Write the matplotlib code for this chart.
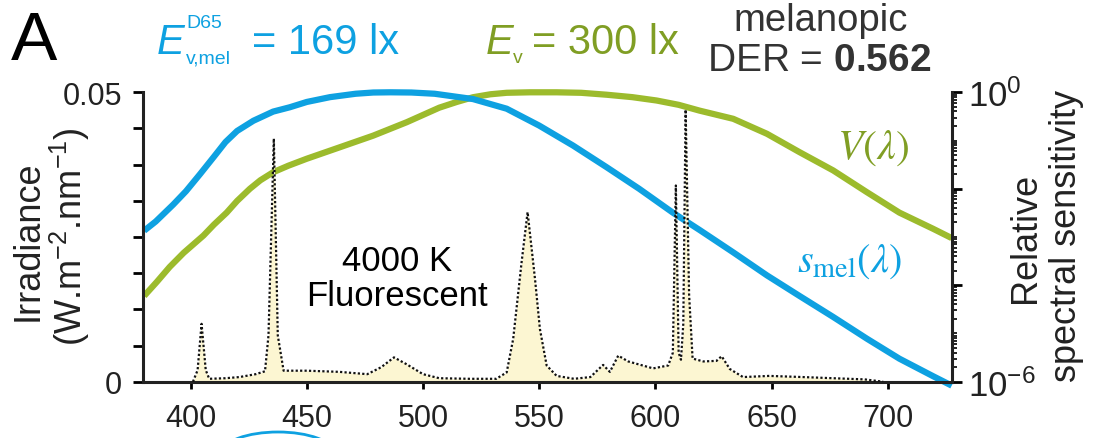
import numpy as np
import matplotlib
matplotlib.use("Agg")
import matplotlib.pyplot as plt
from matplotlib.ticker import LogLocator, NullFormatter
from matplotlib.patches import Arc

plt.rcParams['font.family'] = ['Liberation Sans', 'DejaVu Sans']
plt.rcParams['mathtext.fontset'] = 'custom'
plt.rcParams['mathtext.rm'] = 'Liberation Sans'
plt.rcParams['mathtext.it'] = 'Liberation Sans:italic'
plt.rcParams['mathtext.bf'] = 'Liberation Sans:bold'

# melanopic sensitivity s_mel(lambda)
smel_wl = [380, 385, 392.5, 398, 404, 410, 415, 420, 427, 435.5, 442.7, 450, 460,
           471, 478.6, 486, 495, 505, 521.5, 536, 550, 564.5, 579, 593, 607.5, 619,
           633.5, 648, 662, 676.5, 691, 705, 719.5, 727.5]
smel_val = [1.35e-3, 2.1e-3, 4.7e-3, 8.9e-3, 2.0e-2, 4.6e-2, 9.3e-2, 0.158, 0.257, 0.398,
            0.49, 0.631, 0.794, 0.933, 0.99, 1.0, 0.99, 0.933, 0.724, 0.457, 0.204,
            7.9e-2, 2.8e-2, 1.0e-2, 3.2e-3, 1.4e-3, 4.8e-4, 1.6e-4, 6.0e-5, 2.2e-5,
            7.8e-6, 3.0e-6, 1.3e-6, 8.3e-7]

# photopic luminosity V(lambda)
v_wl = [380, 385.5, 391, 397, 405.5, 410, 415.5, 420, 425.5, 430, 435.5, 442, 450, 464,
        478.5, 493, 507, 514.5, 521.5, 529, 536, 546, 557.5, 568, 579, 590, 600.5, 610,
        619, 633.5, 648, 662, 676.5, 691, 705, 719.5, 727.5]
v_val = [6.0e-5, 1.18e-4, 2.4e-4, 4.7e-4, 1.07e-3, 1.8e-3, 3.2e-3, 5.6e-3, 1.0e-2, 1.5e-2,
         2.2e-2, 3.0e-2, 4.2e-2, 7.2e-2, 0.126, 0.24, 0.48, 0.63, 0.79, 0.91, 0.977, 1.0,
         1.0, 0.977, 0.891, 0.794, 0.676, 0.55, 0.417, 0.282, 0.138, 0.0575, 0.024,
         8.5e-3, 3.2e-3, 1.48e-3, 9.5e-4]

# 4000 K fluorescent spectrum (W.m-2.nm-1)
spd_wl = [401, 403, 404.7, 406.5, 408, 415, 421, 428, 432, 433.5, 435.8, 437.5, 440, 450,
          464, 476, 482, 487.5, 493, 500, 507, 520, 531.5, 536, 538.8, 542.4, 545, 548.2,
          550.3, 553.2, 557.5, 565, 572, 577.5, 580.4, 584, 588.3, 599, 605.5, 607.5,
          608.8, 610, 611, 612, 613, 614.5, 616, 620.6, 626.3, 628.5, 632, 637.7, 649,
          663.5, 676.5, 690, 698]
spd_val = [0, 0.002, 0.0100, 0.002, 0.0005, 0.0006, 0.0008, 0.0013, 0.0018, 0.008, 0.042,
           0.008, 0.0019, 0.0019, 0.0017, 0.0013, 0.0025, 0.0042, 0.003, 0.0013, 0.0006,
           0.0005, 0.0005, 0.0016, 0.0074, 0.0206, 0.0293, 0.0177, 0.0091, 0.0028, 0.0010,
           0.0005, 0.0008, 0.0029, 0.0017, 0.0045, 0.0035, 0.0023, 0.0028, 0.005, 0.0339,
           0.005, 0.0038, 0.01, 0.047, 0.015, 0.004, 0.0035, 0.0036, 0.0044, 0.0022, 0.0008,
           0.0010, 0.0008, 0.0006, 0.0004, 0.0]

xticks = [400, 450, 500, 550, 600, 650, 700]
left_ticks = [0, 0.00625, 0.0125, 0.01875, 0.025, 0.03125, 0.0375, 0.04375, 0.05]
left_labels = ['0', '', '', '', '', '', '', '', '0.05']
right_ticks = [1e-6, 1e-4, 1e-2, 1]
right_labels = ['$10^{-6}$', '', '', '$10^{0}$']

BLUE = '#0ea1e1'
GREEN = '#9cbb2c'
GREEN_TXT = '#809e24'
INK = '#222222'
W, H = 1095, 439


def px(x, y):
    return x / W, 1 - y / H


fig = plt.figure(figsize=(W / 100, H / 100), dpi=100)
ax = fig.add_axes([143 / W, 1 - 382.7 / H, (951.7 - 143) / W, (382.7 - 93.3) / H])
ax2 = ax.twinx()

ax2.plot(v_wl, v_val, color=GREEN, lw=4.5, solid_capstyle='butt',
         solid_joinstyle='round', clip_on=False)
ax2.plot(smel_wl, smel_val, color=BLUE, lw=4.5, solid_capstyle='butt',
         solid_joinstyle='round', clip_on=False)
ax2.set_yscale('log')
ax2.set_ylim(1e-6, 1)
ax2.set_yticks(right_ticks, labels=right_labels)
ax2.yaxis.set_minor_locator(LogLocator(base=10, subs=[1, 2, 3, 4, 5, 6, 7, 8, 9], numticks=30))
ax2.yaxis.set_minor_formatter(NullFormatter())
ax2.tick_params(axis='y', which='major', direction='out', length=7, width=2,
                labelsize=25, labelcolor=INK, pad=5)
ax2.tick_params(axis='y', which='minor', direction='out', length=3.5, width=1.2)

ax.fill_between(spd_wl, spd_val, 0, color='#fcf6d2', lw=0, zorder=2)
ax.plot(spd_wl, spd_val, color='#111111', lw=1.6, ls=(0, (1, 1)), zorder=3)
ax.set_zorder(ax2.get_zorder() + 1)
ax.patch.set_visible(False)

ax.set_xlim(379.5, 727.5)
ax.set_ylim(0, 0.05)
ax.set_xticks(xticks)
ax.set_yticks(left_ticks, labels=left_labels)
ax.tick_params(axis='y', direction='out', length=7, width=2, labelsize=22,
               labelcolor=INK, pad=8)
ax.tick_params(axis='x', direction='out', length=5, width=2, labelsize=22,
               labelcolor=INK, pad=10)

for a in (ax, ax2):
    a.spines['top'].set_visible(False)
    for s in ('left', 'right', 'bottom'):
        a.spines[s].set_linewidth(2.2)
        a.spines[s].set_color(INK)
ax.spines['right'].set_visible(False)
ax2.spines['left'].set_visible(False)
ax2.spines['bottom'].set_visible(False)

# axis labels
fig.text(*px(28, 241), 'Irradiance', rotation=90, ha='center', va='center',
         fontsize=26, color=INK)
fig.text(*px(70, 237), '(W.m$^{-2}$.nm$^{-1}$)', rotation=90, ha='center',
         va='center', fontsize=26, color=INK)
fig.text(*px(1026, 238), 'Relative', rotation=90, ha='center', va='center',
         fontsize=26, color=INK)
fig.text(*px(1066, 236), 'spectral sensitivity', rotation=90, ha='center',
         va='center', fontsize=26, color=INK)

# in-plot annotations
ax.text(488.8, 0.0179, '4000 K\nFluorescent', ha='center', va='center',
        fontsize=25, color='black', linespacing=1.05)
fig.text(*px(873, 148), r'$V(\lambda)$', ha='center', va='center', fontsize=30,
         color=GREEN_TXT, math_fontfamily='stix')
fig.text(*px(850, 262), r'$s_{\mathrm{mel}}(\lambda)$', ha='center', va='center',
         fontsize=29, color=BLUE, math_fontfamily='stix')

# header
fig.text(*px(11, 60), 'A', fontsize=50, color='black', va='baseline')
fig.text(*px(157, 54), 'E', fontsize=30, color=BLUE, style='italic', va='baseline')
fig.text(*px(186, 28), 'D65', fontsize=14, color=BLUE, va='baseline')
fig.text(*px(186, 63), 'v,mel', fontsize=14, color=BLUE, va='baseline')
fig.text(*px(252, 54), '= 169 lx', fontsize=30, color=BLUE, va='baseline')
fig.text(*px(486, 54), 'E', fontsize=30, color=GREEN_TXT, style='italic', va='baseline')
fig.text(*px(513, 63), 'v', fontsize=14, color=GREEN_TXT, va='baseline')
fig.text(*px(532, 54), '= 300 lx', fontsize=30, color=GREEN_TXT, va='baseline')
fig.text(*px(821, 31), 'melanopic', fontsize=27.5, color='#333333', ha='center',
         va='baseline')
fig.text(*px(819, 71), r'DER = $\mathbf{0.562}$', fontsize=28, color='#333333',
         ha='center', va='baseline')

# sliver of the next panel's outline at the bottom edge
fig.add_artist(Arc(px(278, 454), 112 / W, 42 / H, theta1=0, theta2=180,
                   color=BLUE, lw=2, transform=fig.transFigure))

fig.savefig('out.png', dpi=100)
